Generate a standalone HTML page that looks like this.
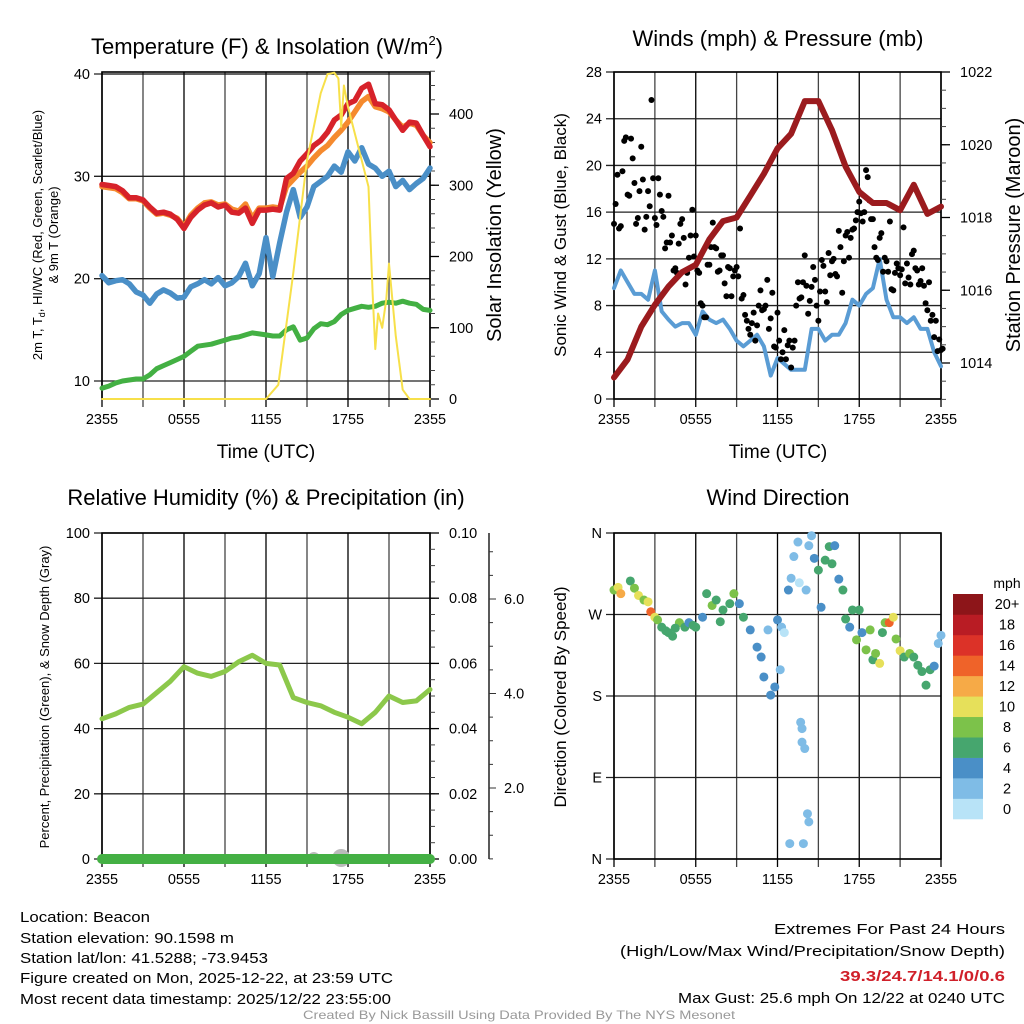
<!DOCTYPE html>
<html><head><meta charset="utf-8"><title>Beacon Mesonet Meteogram</title>
<style>
html,body{margin:0;padding:0;background:#fff;}
svg{display:block;font-family:"Liberation Sans",sans-serif;}
</style></head>
<body>
<svg id="chart" width="1024" height="1024" viewBox="0 0 1024 1024" xmlns="http://www.w3.org/2000/svg">
<rect width="1024" height="1024" fill="#fff"/>
<text x="267" y="54" font-size="22" text-anchor="middle">Temperature (F) &amp; Insolation (W/m<tspan font-size="13" dy="-9">2</tspan><tspan dy="9">)</tspan></text>
<text x="778" y="46" font-size="22" text-anchor="middle">Winds (mph) &amp; Pressure (mb)</text>
<text x="266" y="505" font-size="22" text-anchor="middle">Relative Humidity (%) &amp; Precipitation (in)</text>
<text x="778" y="505" font-size="22" text-anchor="middle">Wind Direction</text>

<text x="266" y="458" font-size="19" text-anchor="middle">Time (UTC)</text>
<text x="778" y="458" font-size="19" text-anchor="middle">Time (UTC)</text>

<text font-size="13" text-anchor="middle" transform="translate(42,235) rotate(-90)">2m T, T<tspan font-size="9" dy="3">d</tspan><tspan dy="-3">, HI/WC (Red, Green, Scarlet/Blue)</tspan></text>
<text font-size="13" text-anchor="middle" transform="translate(58,235) rotate(-90)">&amp; 9m T (Orange)</text>
<text font-size="20" text-anchor="middle" transform="translate(501,235) rotate(-90)">Solar Insolation (Yellow)</text>
<text font-size="17" text-anchor="middle" transform="translate(566,235) rotate(-90)">Sonic Wind &amp; Gust (Blue, Black)</text>
<text font-size="20" text-anchor="middle" transform="translate(1020,235) rotate(-90)">Station Pressure (Maroon)</text>
<text font-size="13" text-anchor="middle" transform="translate(49,697) rotate(-90)">Percent, Precipitation (Green), &amp; Snow Depth (Gray)</text>
<text font-size="17" text-anchor="middle" transform="translate(566,697) rotate(-90)">Direction (Colored By Speed)</text>
<text x="1007" y="588" font-size="14" text-anchor="middle">mph</text>

<g font-size="15">
<text x="20" y="922" textLength="130" lengthAdjust="spacingAndGlyphs">Location: Beacon</text>
<text x="20" y="943" textLength="214" lengthAdjust="spacingAndGlyphs">Station elevation: 90.1598 m</text>
<text x="20" y="963" textLength="248" lengthAdjust="spacingAndGlyphs">Station lat/lon: 41.5288; -73.9453</text>
<text x="20" y="983" textLength="373" lengthAdjust="spacingAndGlyphs">Figure created on Mon, 2025-12-22, at 23:59 UTC</text>
<text x="20" y="1004" textLength="371" lengthAdjust="spacingAndGlyphs">Most recent data timestamp: 2025/12/22 23:55:00</text>
</g>
<g font-size="15">
<text x="774" y="934" textLength="231" lengthAdjust="spacingAndGlyphs">Extremes For Past 24 Hours</text>
<text x="620" y="956" textLength="385" lengthAdjust="spacingAndGlyphs">(High/Low/Max Wind/Precipitation/Snow Depth)</text>
<text x="840" y="981" font-weight="bold" fill="#d0202a" textLength="165" lengthAdjust="spacingAndGlyphs">39.3/24.7/14.1/0/0.6</text>
<text x="678" y="1003" textLength="327" lengthAdjust="spacingAndGlyphs">Max Gust: 25.6 mph On 12/22 at 0240 UTC</text>
</g>
<text x="303" y="1019" font-size="12" fill="#999" textLength="432" lengthAdjust="spacingAndGlyphs">Created By Nick Bassill Using Data Provided By The NYS Mesonet</text>
</svg>
<script>
// ---------- data (hours since 2355 UTC) ----------
const hourT = [0,1,2,3,4,5,6,7,8,9,10,11,12,13,14,15,16,17,18,19,20,21,22,23,24];
const halfT = [0,0.5,1,1.5,2,2.5,3,3.5,4,4.5,5,5.5,6,6.5,7,7.5,8,8.5,9,9.5,10,10.5,11,11.5,12,12.5,13,13.5,14,14.5,15,15.5,16,16.5,17,17.5,18,18.5,19,19.5,20,20.5,21,21.5,22,22.5,23,23.5,24];
const tempRed =    [29.2,29.1,29.0,28.6,27.9,27.9,27.7,27.0,26.4,26.5,26.3,25.8,24.9,26.0,26.7,27.2,27.4,27.0,27.2,26.5,26.4,26.9,25.4,26.7,26.7,26.8,26.7,29.8,30.3,31.5,32.2,33.0,33.5,34.3,35.5,36.0,37.1,37.4,38.6,39.0,37.1,37.0,36.5,35.5,34.5,35.3,35.2,34.0,32.9];
const tempOrange = [29.0,28.9,28.8,28.4,27.8,27.8,27.6,26.9,26.3,26.4,26.2,25.9,25.1,26.2,26.9,27.4,27.5,27.2,27.3,26.8,26.6,27.3,25.9,26.9,26.9,27.0,26.9,29.0,29.7,30.4,31.0,31.8,32.5,33.0,33.8,34.5,35.3,36.3,37.3,37.8,36.8,36.6,36.3,35.5,34.8,35.2,35.0,34.0,33.3];
const tempBlue =   [20.3,19.6,19.8,19.9,19.5,18.7,18.4,17.6,18.5,18.9,18.6,18.1,18.2,19.2,19.5,19.9,19.5,20.1,19.3,19.6,20.2,21.5,19.3,20.5,24.0,20.2,23.5,26.5,28.7,26.0,27.0,29.0,29.5,30.0,31.0,30.4,32.4,31.5,32.8,31.2,30.8,30.0,30.5,29.0,29.6,28.7,29.3,29.8,30.8];
const tempGreen =  [9.3,9.5,9.8,10.0,10.1,10.2,10.2,10.6,11.2,11.5,11.8,12.1,12.4,12.9,13.4,13.5,13.6,13.8,14.0,14.2,14.3,14.5,14.7,14.6,14.5,14.4,14.4,15.0,15.3,14.0,14.2,15.1,15.6,15.5,15.8,16.5,16.9,17.1,17.3,17.2,17.3,17.6,17.7,17.6,17.8,17.6,17.5,17.0,16.9];
const solarT = [0,12,12.9,14,15,16,16.5,17,17.3,17.5,17.7,18,19,19.5,19.8,20,20.2,20.5,20.8,21,21.5,22,22.5,24];
const solarV = [0,0,20,177,335,429,456,458,450,382,440,410,335,298,149,70,120,100,140,190,88,13,0,0];

const windV = [9.5,11,10,9,9,8.5,11,7.5,6.8,6.2,6.5,6.5,5.5,7.5,6.8,6.5,6.8,6,5,4.5,5,5.5,4.5,2,3.5,3,2.5,2.5,2.5,6,6,5,5.5,5.5,6.5,8.5,8,9,9.5,12,8.5,7,7,6.5,7,6,6,4,2.8];
const pressV = [1013.6,1014.1,1015.0,1015.6,1016.1,1016.5,1016.7,1017.4,1017.9,1018.0,1018.6,1019.2,1019.9,1020.3,1021.2,1021.2,1020.4,1019.4,1018.7,1018.4,1018.4,1018.2,1018.9,1018.1,1018.3];
const gustV = [15,19.2,14.8,22.1, 17.5,22.3,18.5,15.5, 21.6,14.5,17.8,25.6, 15.5,18.9,16.1,12.9, 17.4,14,11.2,13.3, 15.4,9.8,12.1,16.2, 14,10.8,8,7, 11.5,15.1,12.9,11, 12.3,8.8,11.2,10.5, 11.3,14.6,8.9,6.7, 5.5,7.4,6.3,9.3, 7.7,10.2,6.9,4.5, 7.4,3.4,5.9,4.6, 2.7,5,10,8.7, 12.3,7.3,9.6,10.2, 6.7,11.9,9.2,12.5, 11.8,10.7,14.4,9.1, 14,12.1,14.5,15.3, 16.9,15.2,19.6,17, 15.4,12.1,13.8,10.9, 11.8,15.2,9.3,11.6, 10.6,14.7,11.6,9.8, 12.7,11,10.1,9.7, 7.6,6.7,5.3,4.1, 4.2];
const gust2V = [16.7,14.6,19.5,22.4, 17.4,20.6,15.0,17.8, 18.8,15.6,16.5,18.9, 14.9,17.5,15.6,13.4, 13.4,11.0,10.8,15.0, 13.8,10.8,14.0,12.2, 11.0,8.2,7.0,11.5, 13.0,13.0,10.9,12.3, 9.9,11.3,8.8,11.0, 10.5,8.6,7.2,6.0, 6.5,5.0,8.0,7.6, 8.0,6.0,9.1,4.4, 5.0,4.0,3.4,5.0, 4.4,8.0,8.6,10.0, 9.7,8.4,11.3,8.0, 9.2,11.4,8.3,10.6, 12.0,10.5,13.0,11.8, 14.3,13.8,14.6,16.0, 15.9,16.0,19.0,15.4, 13.0,11.9,14.2,12.1, 10.9,9.4,10.8,11.2, 11.1,9.9,10.4,12.4, 11.2,9.8,11.2,8.2, 10.0,7.2,6.7,5.1, 4.3];

const rhV = [43,44.5,46.5,47.5,51,54.5,59,57,56,57.5,60.5,62.5,60,59.5,49.5,48,47,45,43.5,41.5,45,50,48,48.5,52];
const precipV = [0,0,0,0,0,0,0,0,0,0,0,0,0,0,0,0,0,0,0,0,0,0,0,0,0];
const snowT = [15.5,17.5];

const dirT = [0,0.3,0.5,1.2,1.5,1.8,2.2,2.5,2.7,3,3.2,3.5,4,4.3,4.8,5.2,5.5,6,6.5,6.8,7.2,7.5,8,8.5,8.8,9.2,9.5,10,10.5,10.8,11,11.3,11.5,11.8,12,12.2,12.3,12.5,12.8,13,13.2,13.5,13.6,13.7,13.8,13.8,14,14.2,14.3,12.9,13.9,14.1,14.3,14.5,14.7,15,15.2,15.5,15.8,16,16.2,16.5,16.8,17,17.3,17.5,17.8,18,18.2,18.5,18.8,19,19.2,19.5,19.7,19.9,20.2,20.5,20.7,21,21.3,21.7,22,22.3,22.6,22.9,23.2,23.5,23.8,24,3.8,4.5,5.8,7.8];
const dirV = [297,300,293,307,299,291,286,284,273,267,264,256,250,246,261,256,261,256,267,293,280,286,275,282,293,282,267,253,234,223,201,253,181,190,264,209,256,250,297,310,334,350,305,151,144,129,122,50,41,17,17,297,346,357,332,319,278,330,345,326,346,309,297,265,256,275,242,275,250,231,253,220,227,216,250,261,261,267,243,230,223,227,223,214,207,192,209,213,238,247,252,255,258,262];
const dirS = [9,10,12,7,9,10,9,10,14,10,8,6,6,6,8,6,4,6,4,6,8,6,6,6,8,4,6,4,4,4,4,2,4,4,4,2,2,0,4,2,2,2,0,2,2,2,2,2,2,2,2,2,2,2,4,6,4,6,6,6,4,4,6,6,4,6,8,6,4,8,8,6,8,10,6,8,14,10,8,10,6,8,6,6,6,6,6,4,2,2,6,6,6,7];

const xTickHours = [0,6,12,18,24];
const xTickLabels = ["2355","0555","1155","1755","2355"];
const tempTicks = [10,20,30,40];
const solarTicks = [0,100,200,300,400];
const windTicks = [0,4,8,12,16,20,24,28];
const pressTicks = [1014,1016,1018,1020,1022];
const rhTicks = [0,20,40,60,80,100];
const precipTicks = [0,0.02,0.04,0.06,0.08,0.10];
const snowTicks = [2,4,6];
const dirTicks = [0,90,180,270,360];
const dirLabels = ["N","E","S","W","N"];
const barLabels = ["0","2","4","6","8","10","12","14","16","18","20+"];
const barColors = ["#b8e3f7","#7fbce6","#4a8fc7","#46a66e","#7cc24a","#e6e05a","#f6aa47","#ef6329","#dc3228","#b91c24","#8d1519"];

// ---------- helpers ----------
const NS = "http://www.w3.org/2000/svg";
const svg = document.getElementById('chart');
function mk(tag, attrs, parent){
  const e = document.createElementNS(NS, tag);
  for (const k in attrs) e.setAttribute(k, attrs[k]);
  (parent || svg).appendChild(e);
  return e;
}
function lin(d0,d1,r0,r1){ return v => r0 + (v-d0)*(r1-r0)/(d1-d0); }

const P1 = {x0:102,x1:430,y0:72,y1:399};
const P2 = {x0:614,x1:941,y0:72,y1:399};
const P3 = {x0:102,x1:430,y0:533,y1:859};
const P4 = {x0:614,x1:941,y0:533,y1:859};

const x1s = lin(0,24,P1.x0,P1.x1), x2s = lin(0,24,P2.x0,P2.x1);
const tY = lin(10,40,381,74), sY = lin(0,400,399,114);
const wY = lin(0,28,399,72), pY = lin(1014,1022,363,72);
const rY = lin(0,100,859,533), prY = lin(0,0.1,859,533), snY = lin(2,6,788,599);
const dY = lin(0,360,859,533);

function panelFrame(P, name, xs, hGridVals, hGridScale){
  const g = mk('g', {});
  
  
  for (let h = 0; h <= 24; h += 3){
    const x = xs(h);
    const l = mk('line', {x1:x, x2:x, y1:P.y0, y2:P.y1+8, stroke:(h%6===0?'#000':'#444'), 'stroke-width':1.3}, g);
    
    
  }
  hGridVals.forEach(v => {
    const y = hGridScale(v);
    const l = mk('line', {x1:P.x0-8, x2:P.x1, y1:y, y2:y, stroke:'#222', 'stroke-width':1.3}, g);
    
    
  });
  xTickHours.forEach((h,i) => {
    const t = mk('text', {x:xs(h), y:P.y1+25, 'font-size':14.5, 'text-anchor':'middle'}, g);
    t.textContent = xTickLabels[i];
    
    
  });
  const r = mk('rect', {x:P.x0, y:P.y0, width:P.x1-P.x0, height:P.y1-P.y0, fill:'none', stroke:'#000', 'stroke-width':1.6}, g);
  
  
}
function leftLabels(P, name, vals, scale, labels){
  vals.forEach((v,i) => {
    const t = mk('text', {x:P.x0-12, y:scale(v)+5, 'font-size':14.5, 'text-anchor':'end'});
    t.textContent = labels ? labels[i] : String(v);
    
    
  });
}
function rightAxis(P, name, vals, scale, fmt, minorStep, minorFrom, minorTo){
  for (let v = minorFrom; v <= minorTo + 1e-9; v += minorStep){
    const y = scale(v);
    if (y < P.y0-1 || y > P.y1+1) continue;
    const l = mk('line', {x1:P.x1, x2:P.x1+5, y1:y, y2:y, stroke:'#444', 'stroke-width':1});
    
    
  }
  vals.forEach(v => {
    const y = scale(v);
    const l = mk('line', {x1:P.x1, x2:P.x1+9, y1:y, y2:y, stroke:'#000', 'stroke-width':1.3});
    
    
    const t = mk('text', {x:P.x1+19, y:y+5, 'font-size':14.5});
    t.textContent = fmt(v);
    
    
  });
}
function line(xsArr, ysArr, xs, ys, color, w, name){
  const pts = xsArr.map((h,i) => xs(h).toFixed(1) + ',' + ys(ysArr[i]).toFixed(1)).join(' ');
  const p = mk('polyline', {points:pts, fill:'none', stroke:color, 'stroke-width':w, 'stroke-linejoin':'round', 'stroke-linecap':'round'});
  
  
}

// ---------- panel 1 ----------
panelFrame(P1, 'temp', x1s, tempTicks, tY);
const top1 = mk('line', {x1:P1.x0, x2:P1.x1, y1:74, y2:74, stroke:'#000', 'stroke-width':1});


leftLabels(P1, 'temp', tempTicks, tY);
rightAxis(P1, 'solar', solarTicks, sY, v => String(v), 20, 0, 460);
line(halfT, tempBlue, x1s, tY, '#4a8fc7', 5.5, 'heat-index-line');
line(halfT, tempGreen, x1s, tY, '#43b043', 5, 'dewpoint-line');
line(halfT, tempOrange, x1s, tY, '#f58a2e', 5.5, 'temp-9m-line');
line(halfT, tempRed, x1s, tY, '#d7222a', 5.5, 'temp-2m-line');
line(solarT, solarV, x1s, sY, '#f7e04a', 2, 'solar-line');

// ---------- panel 2 ----------
panelFrame(P2, 'wind', x2s, windTicks, wY);
leftLabels(P2, 'wind', windTicks, wY);
rightAxis(P2, 'pressure', pressTicks, pY, v => String(v), 0.5, 1013, 1022);
line(halfT, windV, x2s, wY, '#5a9cd4', 4, 'wind-speed-line');
gustV.forEach((v,i) => {
  const c = mk('circle', {cx:x2s(i*0.25), cy:wY(v), r:3, fill:'#000'});
  
  
});
gust2V.forEach((v,i) => {
  const c = mk('circle', {cx:x2s(i*0.25+0.12), cy:wY(v), r:3, fill:'#000'});
  
  
});
line(hourT, pressV, x2s, pY, '#9b1b1e', 6, 'pressure-line');

// ---------- panel 3 ----------
panelFrame(P3, 'rh', x1s, rhTicks, rY);
leftLabels(P3, 'rh', rhTicks, rY);
rightAxis(P3, 'precip', precipTicks, prY, v => v.toFixed(2), 0.005, 0, 0.1);
const snAx = mk('line', {x1:489, x2:489, y1:533, y2:859, stroke:'#000', 'stroke-width':1.3});


for (let v = -0.5; v <= 7; v += 0.5){
  const y = snY(v);
  if (y < 535 || y > 859) continue;
  const l = mk('line', {x1:489, x2:489+(v%2===0?7:4), y1:y, y2:y, stroke:'#333', 'stroke-width':1});
  
  
}
snowTicks.forEach(v => {
  const t = mk('text', {x:504, y:snY(v)+5, 'font-size':14.5});
  t.textContent = v.toFixed(1);
  
  
});
snowT.forEach(h => {
  const c = mk('circle', {cx:x1s(h), cy:858, r:(h>17?9:6), fill:'#bbb'});
  
  
});
line(hourT, precipV, x1s, prY, '#44b044', 10, 'precip-line');
line(hourT, rhV, x1s, rY, '#8cc84b', 5, 'rh-line');

// ---------- panel 4 ----------
panelFrame(P4, 'dir', x2s, dirTicks, dY);
leftLabels(P4, 'dir', dirTicks, dY, dirLabels);
dirT.forEach((h,i) => {
  const b = Math.max(0, Math.min(10, Math.floor(dirS[i]/2)));
  const c = mk('circle', {cx:x2s(h), cy:dY(dirV[i]), r:4.5, fill:barColors[b]});
  
  
});
// colorbar
const cb0 = 594, cb1 = 819, bh = (cb1-cb0)/barColors.length;
barColors.forEach((col,i) => {
  const y = cb1 - (i+1)*bh;
  const r = mk('rect', {x:953, y:y, width:30, height:bh+0.3, fill:col});
  
  
  const t = mk('text', {x:1007, y:y+bh/2+5, 'font-size':14.5, 'text-anchor':'middle'});
  t.textContent = barLabels[i];
  
  
});
</script>
</body></html>
